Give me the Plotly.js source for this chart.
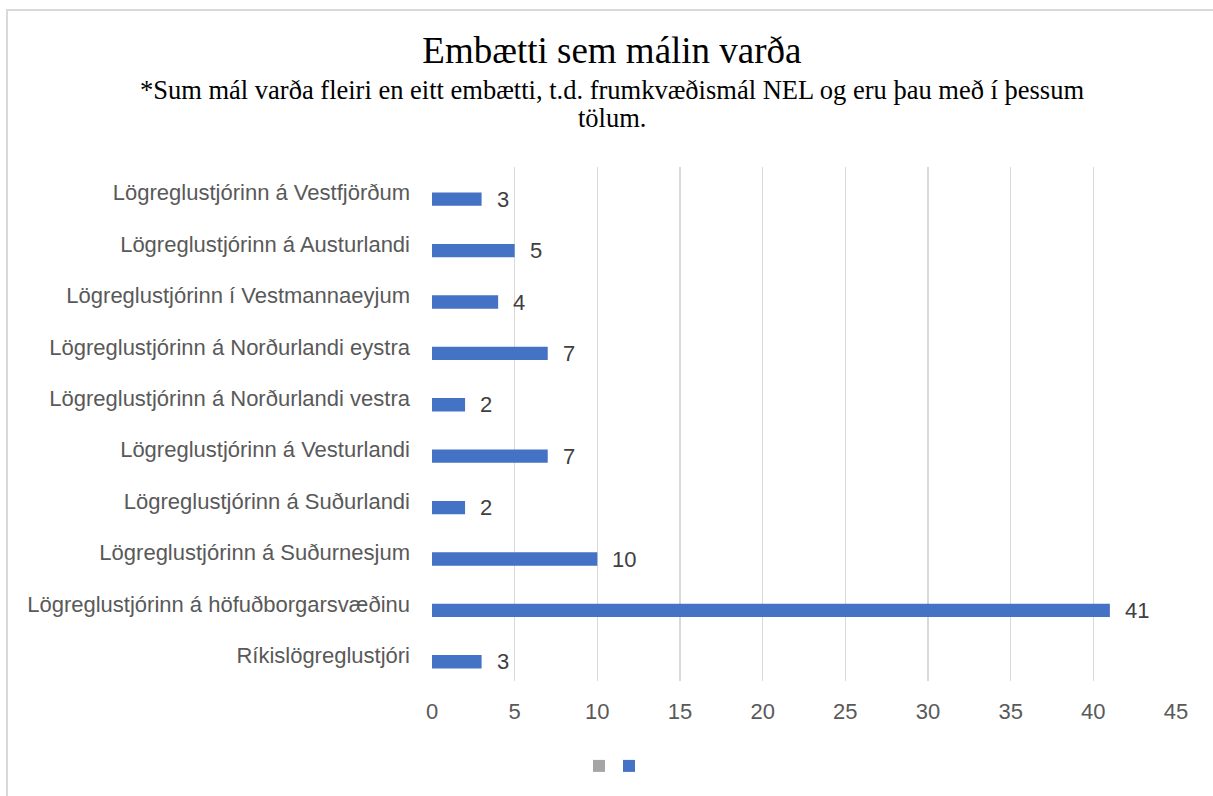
<!DOCTYPE html>
<html>
<head>
<meta charset="utf-8">
<script src="https://cdn.plot.ly/plotly-3.0.1.min.js"></script>
<style>
  html, body { margin: 0; padding: 0; background: #fff; overflow: hidden; }
  #chart { width: 1213px; height: 796px; }
  #frame {
    position: absolute; left: 6px; top: 9px; width: 1400px; height: 1000px;
    border-left: 2px solid #d9d9d9; border-top: 2px solid #d9d9d9;
    pointer-events: none;
  }
</style>
</head>
<body>
<div id="chart"></div>
<div id="frame"></div>
<script>
// Categories from bottom to top, as Plotly draws them
const categories = [
  'Ríkislögreglustjóri',
  'Lögreglustjórinn á höfuðborgarsvæðinu',
  'Lögreglustjórinn á Suðurnesjum',
  'Lögreglustjórinn á Suðurlandi',
  'Lögreglustjórinn á Vesturlandi',
  'Lögreglustjórinn á Norðurlandi vestra',
  'Lögreglustjórinn á Norðurlandi eystra',
  'Lögreglustjórinn í Vestmannaeyjum',
  'Lögreglustjórinn á Austurlandi',
  'Lögreglustjórinn á Vestfjörðum',
];
const caseCounts = [3, 41, 10, 2, 7, 2, 7, 4, 5, 3];
// Empty second series (only shows up in the legend)
const emptySeries = [null, null, null, null, null, null, null, null, null, null];
const xTicks = [0, 5, 10, 15, 20, 25, 30, 35, 40, 45];

const titleText = 'Embætti sem málin varða';
const subtitleLines = [
  '*Sum mál varða fleiri en eitt embætti, t.d. frumkvæðismál NEL og eru þau með í þessum',
  'tölum.',
];

const BLUE = '#4472C4';
const GREY = '#A5A5A5';
const SANS = '"Liberation Sans", Arial, sans-serif';
const SERIF = '"Liberation Serif", "Times New Roman", serif';
const LABEL_SIZE = 22;

const traces = [
  {
    type: 'bar',
    orientation: 'h',
    name: '',
    x: emptySeries,
    y: categories,
    marker: { color: GREY },
    legend: 'legend',
    hoverinfo: 'skip',
  },
  {
    type: 'bar',
    orientation: 'h',
    name: '',
    x: caseCounts,
    y: categories,
    width: 0.26,
    offset: -0.256,
    marker: { color: BLUE },
    legend: 'legend2',
  },
];

// value labels to the right of each bar
const valueLabels = caseCounts.map((v, i) => ({
  x: v,
  y: categories[i],
  xref: 'x',
  yref: 'y',
  text: String(v),
  showarrow: false,
  xanchor: 'left',
  yanchor: 'middle',
  xshift: 13,
  yshift: -6.5,
  font: { family: SANS, size: LABEL_SIZE, color: '#404040' },
}));

const subtitleAnnotations = subtitleLines.map((line, i) => ({
  xref: 'paper',
  yref: 'paper',
  x: 0.242,
  y: [1.1498, 1.0953][i],
  xanchor: 'center',
  yanchor: 'middle',
  text: line,
  showarrow: false,
  font: { family: SERIF, size: 26.5, color: '#000' },
}));

const legendBase = {
  orientation: 'h',
  xref: 'container',
  yref: 'container',
  y: 0.0377,
  xanchor: 'left',
  yanchor: 'middle',
  font: { family: SANS, size: 16, color: '#595959' },
  bgcolor: 'rgba(0,0,0,0)',
};

const layout = {
  width: 1213,
  height: 796,
  margin: { l: 432, r: 37, t: 167, b: 115 },
  paper_bgcolor: '#fff',
  plot_bgcolor: '#fff',
  font: { family: SANS, size: LABEL_SIZE, color: '#595959' },
  title: {
    text: titleText,
    font: { family: SERIF, size: 37, color: '#000' },
    xref: 'container',
    yref: 'container',
    x: 0.5045,
    y: 0.937,
    xanchor: 'center',
    yanchor: 'middle',
  },
  xaxis: {
    range: [0, 45],
    tickvals: xTicks,
    ticktext: xTicks.map(String),
    showgrid: true,
    gridcolor: '#d9d9d9',
    gridwidth: 1.5,
    zeroline: false,
    showline: false,
    ticks: '',
    ticklabelstandoff: 15,
    tickfont: { family: SANS, size: LABEL_SIZE, color: '#595959' },
    fixedrange: true,
  },
  yaxis: {
    type: 'category',
    categoryorder: 'array',
    categoryarray: categories,
    showgrid: false,
    zeroline: false,
    showline: false,
    ticks: '',
    ticklabelstandoff: 21,
    tickfont: { family: SANS, size: LABEL_SIZE, color: '#595959' },
    fixedrange: true,
  },
  showlegend: true,
  legend: Object.assign({}, legendBase, { x: 579 / 1213 }),
  legend2: Object.assign({}, legendBase, { x: 609 / 1213 }),
  annotations: [...subtitleAnnotations, ...valueLabels],
};

Plotly.newPlot('chart', traces, layout, { displayModeBar: false, staticPlot: true });
</script>
</body>
</html>
